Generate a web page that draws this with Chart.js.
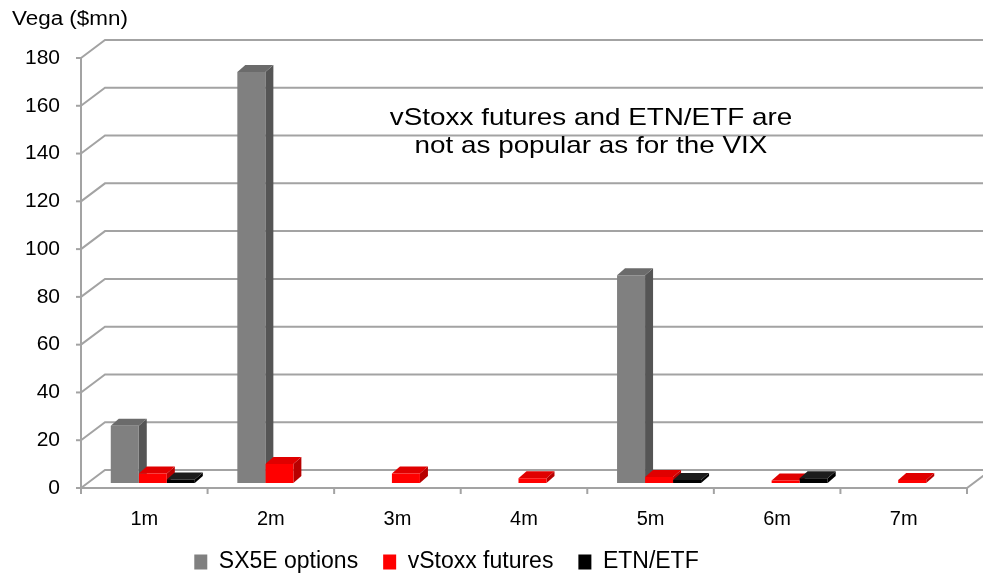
<!DOCTYPE html>
<html>
<head>
<meta charset="utf-8">
<script src="https://cdn.jsdelivr.net/npm/chart.js@4.4.1/dist/chart.umd.min.js"></script>
<style>
  html, body { margin: 0; padding: 0; background: #fff; }
  #wrap { width: 983px; height: 577px; position: relative; }
</style>
</head>
<body>
<div id="wrap"><canvas id="vegaChart"></canvas></div>
<script>
// data
const categories = ['1m', '2m', '3m', '4m', '5m', '6m', '7m'];
const sx5eOptions = [24, 172, 0, 0, 87, 0, 0];
const vstoxxFutures = [4, 8, 4, 2, 2.5, 1, 1.3];
const etnEtf = [1.5, 0, 0, 0, 1.3, 2, 0];
const yTicks = [0, 20, 40, 60, 80, 100, 120, 140, 160, 180];
const seriesNames = ['SX5E options', 'vStoxx futures', 'ETN/ETF'];
const noteLines = ['vStoxx futures and ETN/ETF are', 'not as popular as for the VIX'];

const frontColors = ['#808080', '#ff0000', '#000000'];
const sideColors = ['#555555', '#b80000', '#000000'];
const topColors = ['#6b6b6b', '#e00000', '#1c1c1c'];

// 3d offsets (px)
const WALL_DX = 24, WALL_DY = -18;
const BAR_DX = 8.5, BAR_DY = -5;
const DEPTH_DX = 8, DEPTH_DY = -7;
const FONT = '"Liberation Sans", Arial, sans-serif';

function poly(ctx, pts) {
    ctx.beginPath();
    ctx.moveTo(pts[0][0], pts[0][1]);
    for (let i = 1; i < pts.length; i++) ctx.lineTo(pts[i][0], pts[i][1]);
    ctx.closePath();
    ctx.fill();
}

// draws the walls, floor and the side / top faces of each bar
const depth3d = {
    id: 'depth3d',
    afterLayout(chart) {
        // legend text should sit at y ~ 562
        const lg = chart.legend;
        const dy = 562 - (lg.top + 25 + 11.5);
        lg.left -= 37; lg.right -= 37;
        lg.top += dy; lg.bottom += dy;
    },
    beforeDatasetsDraw(chart) {
        const { ctx, chartArea: a, scales: { x, y } } = chart;
        ctx.save();
        ctx.strokeStyle = '#a3a3a3';
        ctx.lineWidth = 2;
        yTicks.forEach(v => {
            const py = y.getPixelForValue(v);
            ctx.beginPath();
            ctx.moveTo(a.left, py);
            ctx.lineTo(a.left + WALL_DX, py + WALL_DY);
            ctx.lineTo(chart.width, py + WALL_DY);
            ctx.stroke();
            ctx.beginPath();
            ctx.moveTo(a.left - 5, py);
            ctx.lineTo(a.left, py);
            ctx.stroke();
        });
        ctx.beginPath();
        ctx.moveTo(a.left, y.getPixelForValue(yTicks[yTicks.length - 1]));
        ctx.lineTo(a.left, a.bottom);
        ctx.lineTo(a.right, a.bottom);
        ctx.lineTo(a.right + WALL_DX, a.bottom + WALL_DY);
        ctx.stroke();
        const step = x.getPixelForValue(1) - x.getPixelForValue(0);
        for (let i = 0; i <= categories.length; i++) {
            const px = x.getPixelForValue(0) - step / 2 + i * step;
            ctx.beginPath();
            ctx.moveTo(px, a.bottom);
            ctx.lineTo(px, a.bottom + 6);
            ctx.stroke();
        }

        ctx.translate(BAR_DX, BAR_DY);
        chart.data.datasets.forEach((ds, di) => {
            chart.getDatasetMeta(di).data.forEach((bar, i) => {
                if (!ds.data[i]) return;
                const { x: cx, y: top, base, width } = bar.getProps(['x', 'y', 'base', 'width'], true);
                const l = cx - width / 2, r = cx + width / 2;
                ctx.fillStyle = sideColors[di];
                poly(ctx, [[r, top], [r + DEPTH_DX, top + DEPTH_DY], [r + DEPTH_DX, base + DEPTH_DY], [r, base]]);
                ctx.fillStyle = topColors[di];
                poly(ctx, [[l, top], [r, top], [r + DEPTH_DX, top + DEPTH_DY], [l + DEPTH_DX, top + DEPTH_DY]]);
            });
        });
    },
    afterDatasetsDraw(chart) {
        chart.ctx.restore();
    },
    afterDraw(chart) {
        const ctx = chart.ctx;
        ctx.save();
        ctx.fillStyle = '#000';
        ctx.textBaseline = 'middle';
        // axis title
        ctx.save();
        ctx.font = '19.5px ' + FONT;
        ctx.textAlign = 'left';
        ctx.translate(12, 20);
        ctx.scale(1.15, 1);
        ctx.fillText('Vega ($mn)', 0, 0);
        ctx.restore();
        // note
        ctx.font = '24px ' + FONT;
        ctx.textAlign = 'center';
        noteLines.forEach((t, k) => {
            ctx.save();
            ctx.translate(591, 118 + k * 28);
            ctx.scale(1.16, 1);
            ctx.fillText(t, 0, 0);
            ctx.restore();
        });
        ctx.restore();
    }
};

const ctx = document.getElementById('vegaChart').getContext('2d');
const vegaChart = new Chart(ctx, {
    type: 'bar',
    data: {
        labels: categories,
        datasets: [sx5eOptions, vstoxxFutures, etnEtf].map((d, i) => ({
            label: seriesNames[i],
            data: d,
            backgroundColor: frontColors[i],
            borderWidth: 0,
            categoryPercentage: 0.664,
            barPercentage: 1
        }))
    },
    options: {
        responsive: true,
        maintainAspectRatio: false,
        animation: false,
        layout: { padding: { top: 58, right: 16, left: 0, bottom: -19 } },
        scales: {
            x: {
                grid: { display: false, drawTicks: false },
                border: { display: false },
                ticks: { color: '#000', font: { family: FONT, size: 20 }, padding: 19 },
                afterFit: s => { s.height = 50; }
            },
            y: {
                min: 0,
                max: 180,
                grid: { display: false, drawTicks: false },
                border: { display: false },
                ticks: { stepSize: 20, color: '#000', font: { family: FONT, size: 21 }, padding: 21 },
                afterFit: s => { s.width = 81; }
            }
        },
        plugins: {
            legend: {
                position: 'bottom',
                labels: {
                    color: '#000',
                    font: { family: FONT, size: 23 },
                    boxWidth: 13,
                    boxHeight: 15,
                    padding: 25
                }
            },
            tooltip: { enabled: false }
        }
    },
    plugins: [depth3d]
});
</script>
</body>
</html>
